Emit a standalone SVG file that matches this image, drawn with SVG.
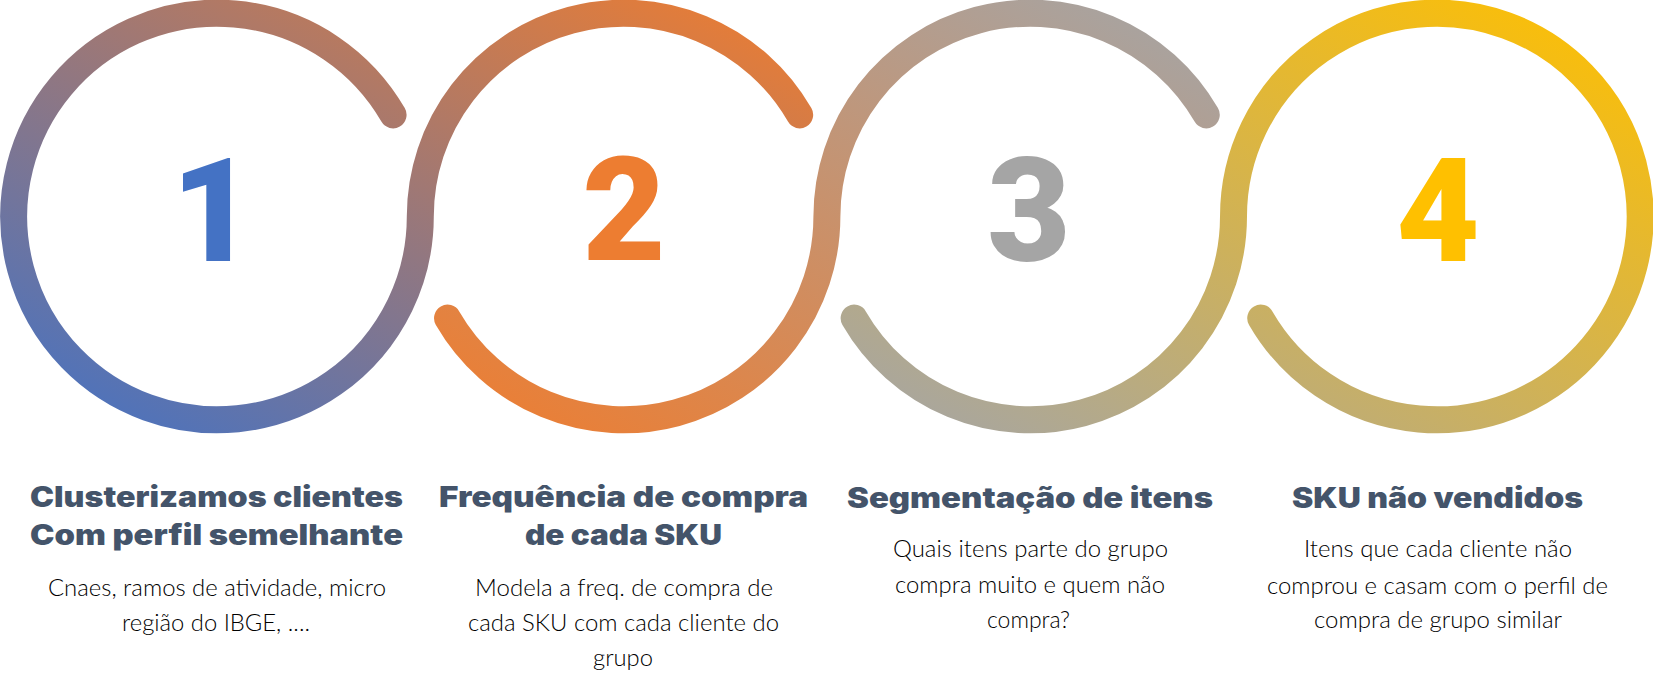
<svg xmlns="http://www.w3.org/2000/svg" width="1653" height="673" viewBox="0 0 1653 673">
  <defs>
    <linearGradient id="gA" x1="0" y1="1" x2="1" y2="0">
      <stop offset="0" stop-color="#4472c4"/>
      <stop offset="1" stop-color="#ed7d31"/>
    </linearGradient>
    <linearGradient id="gB" x1="0" y1="1" x2="1" y2="0">
      <stop offset="0" stop-color="#ed7d31"/>
      <stop offset="1" stop-color="#a5a5a5"/>
    </linearGradient>
    <linearGradient id="gC" x1="0" y1="1" x2="1" y2="0">
      <stop offset="0" stop-color="#a5a5a5"/>
      <stop offset="1" stop-color="#ffc000"/>
    </linearGradient>
    <style>
      .ring { fill: none; stroke-width: 27; stroke-linecap: round; }
      .num { font-family: Roboto, "Liberation Sans", sans-serif; font-weight: 900; font-size: 144px; text-anchor: middle; }
      .head { font-family: Inter, "Noto Sans", sans-serif; font-weight: 900; font-size: 28px; fill: #44546a; text-anchor: middle; }
      .body { font-family: Lato, "Liberation Sans", sans-serif; font-weight: 300; font-size: 24px; fill: #000000; text-anchor: middle; }
    </style>
  </defs>
  <rect width="1653" height="673" fill="#ffffff"/>

  <g id="connectors">
    <path class="ring" stroke="url(#gA)" d="M 393.06 114.85 A 203.3 203.3 0 1 0 420.3 216.5 A 203.3 203.3 0 0 1 799.66 114.85"/>
    <path class="ring" stroke="url(#gB)" d="M 447.54 318.15 A 203.3 203.3 0 0 0 826.9 216.5 A 203.3 203.3 0 0 1 1206.26 114.85"/>
    <path class="ring" stroke="url(#gC)" d="M 854.14 318.15 A 203.3 203.3 0 0 0 1233.5 216.5 A 203.3 203.3 0 1 1 1260.74 318.15"/>
  </g>

  <g id="node-1">
    <text class="num" x="213" y="261" fill="#4472c4">1</text>
    <text class="head" x="216.5" y="507" textLength="373" lengthAdjust="spacingAndGlyphs">Clusterizamos clientes</text>
    <text class="head" x="216.5" y="545" textLength="373" lengthAdjust="spacingAndGlyphs">Com perfil semelhante</text>
    <text class="body" x="217" y="596" textLength="338" lengthAdjust="spacingAndGlyphs">Cnaes, ramos de atividade, micro</text>
    <text class="body" x="216" y="631" textLength="188" lengthAdjust="spacingAndGlyphs">região do IBGE, ....</text>
  </g>

  <g id="node-2">
    <text class="num" x="624" y="260" fill="#ed7d31">2</text>
    <text class="head" x="623.5" y="507" textLength="369" lengthAdjust="spacingAndGlyphs">Frequência de compra</text>
    <text class="head" x="623.5" y="545" textLength="197" lengthAdjust="spacingAndGlyphs">de cada SKU</text>
    <text class="body" x="624" y="596" textLength="298" lengthAdjust="spacingAndGlyphs">Modela a freq. de compra de</text>
    <text class="body" x="623.5" y="631" textLength="311" lengthAdjust="spacingAndGlyphs">cada SKU com cada cliente do</text>
    <text class="body" x="623" y="666" textLength="60" lengthAdjust="spacingAndGlyphs">grupo</text>
  </g>

  <g id="node-3">
    <text class="num" x="1029" y="261" fill="#a5a5a5">3</text>
    <text class="head" x="1030" y="508" textLength="366" lengthAdjust="spacingAndGlyphs">Segmentação de itens</text>
    <text class="body" x="1030.5" y="557" textLength="275" lengthAdjust="spacingAndGlyphs">Quais itens parte do grupo</text>
    <text class="body" x="1030" y="593" textLength="270" lengthAdjust="spacingAndGlyphs">compra muito e quem não</text>
    <text class="body" x="1028.5" y="628" textLength="83" lengthAdjust="spacingAndGlyphs">compra?</text>
  </g>

  <g id="node-4">
    <text class="num" x="1438" y="261" fill="#ffc000">4</text>
    <text class="head" x="1437.5" y="508" textLength="291" lengthAdjust="spacingAndGlyphs">SKU não vendidos</text>
    <text class="body" x="1438" y="557" textLength="268" lengthAdjust="spacingAndGlyphs">Itens que cada cliente não</text>
    <text class="body" x="1437.5" y="594" textLength="341" lengthAdjust="spacingAndGlyphs">comprou e casam com o perfil de</text>
    <text class="body" x="1438" y="628" textLength="248" lengthAdjust="spacingAndGlyphs">compra de grupo similar</text>
  </g>
</svg>
